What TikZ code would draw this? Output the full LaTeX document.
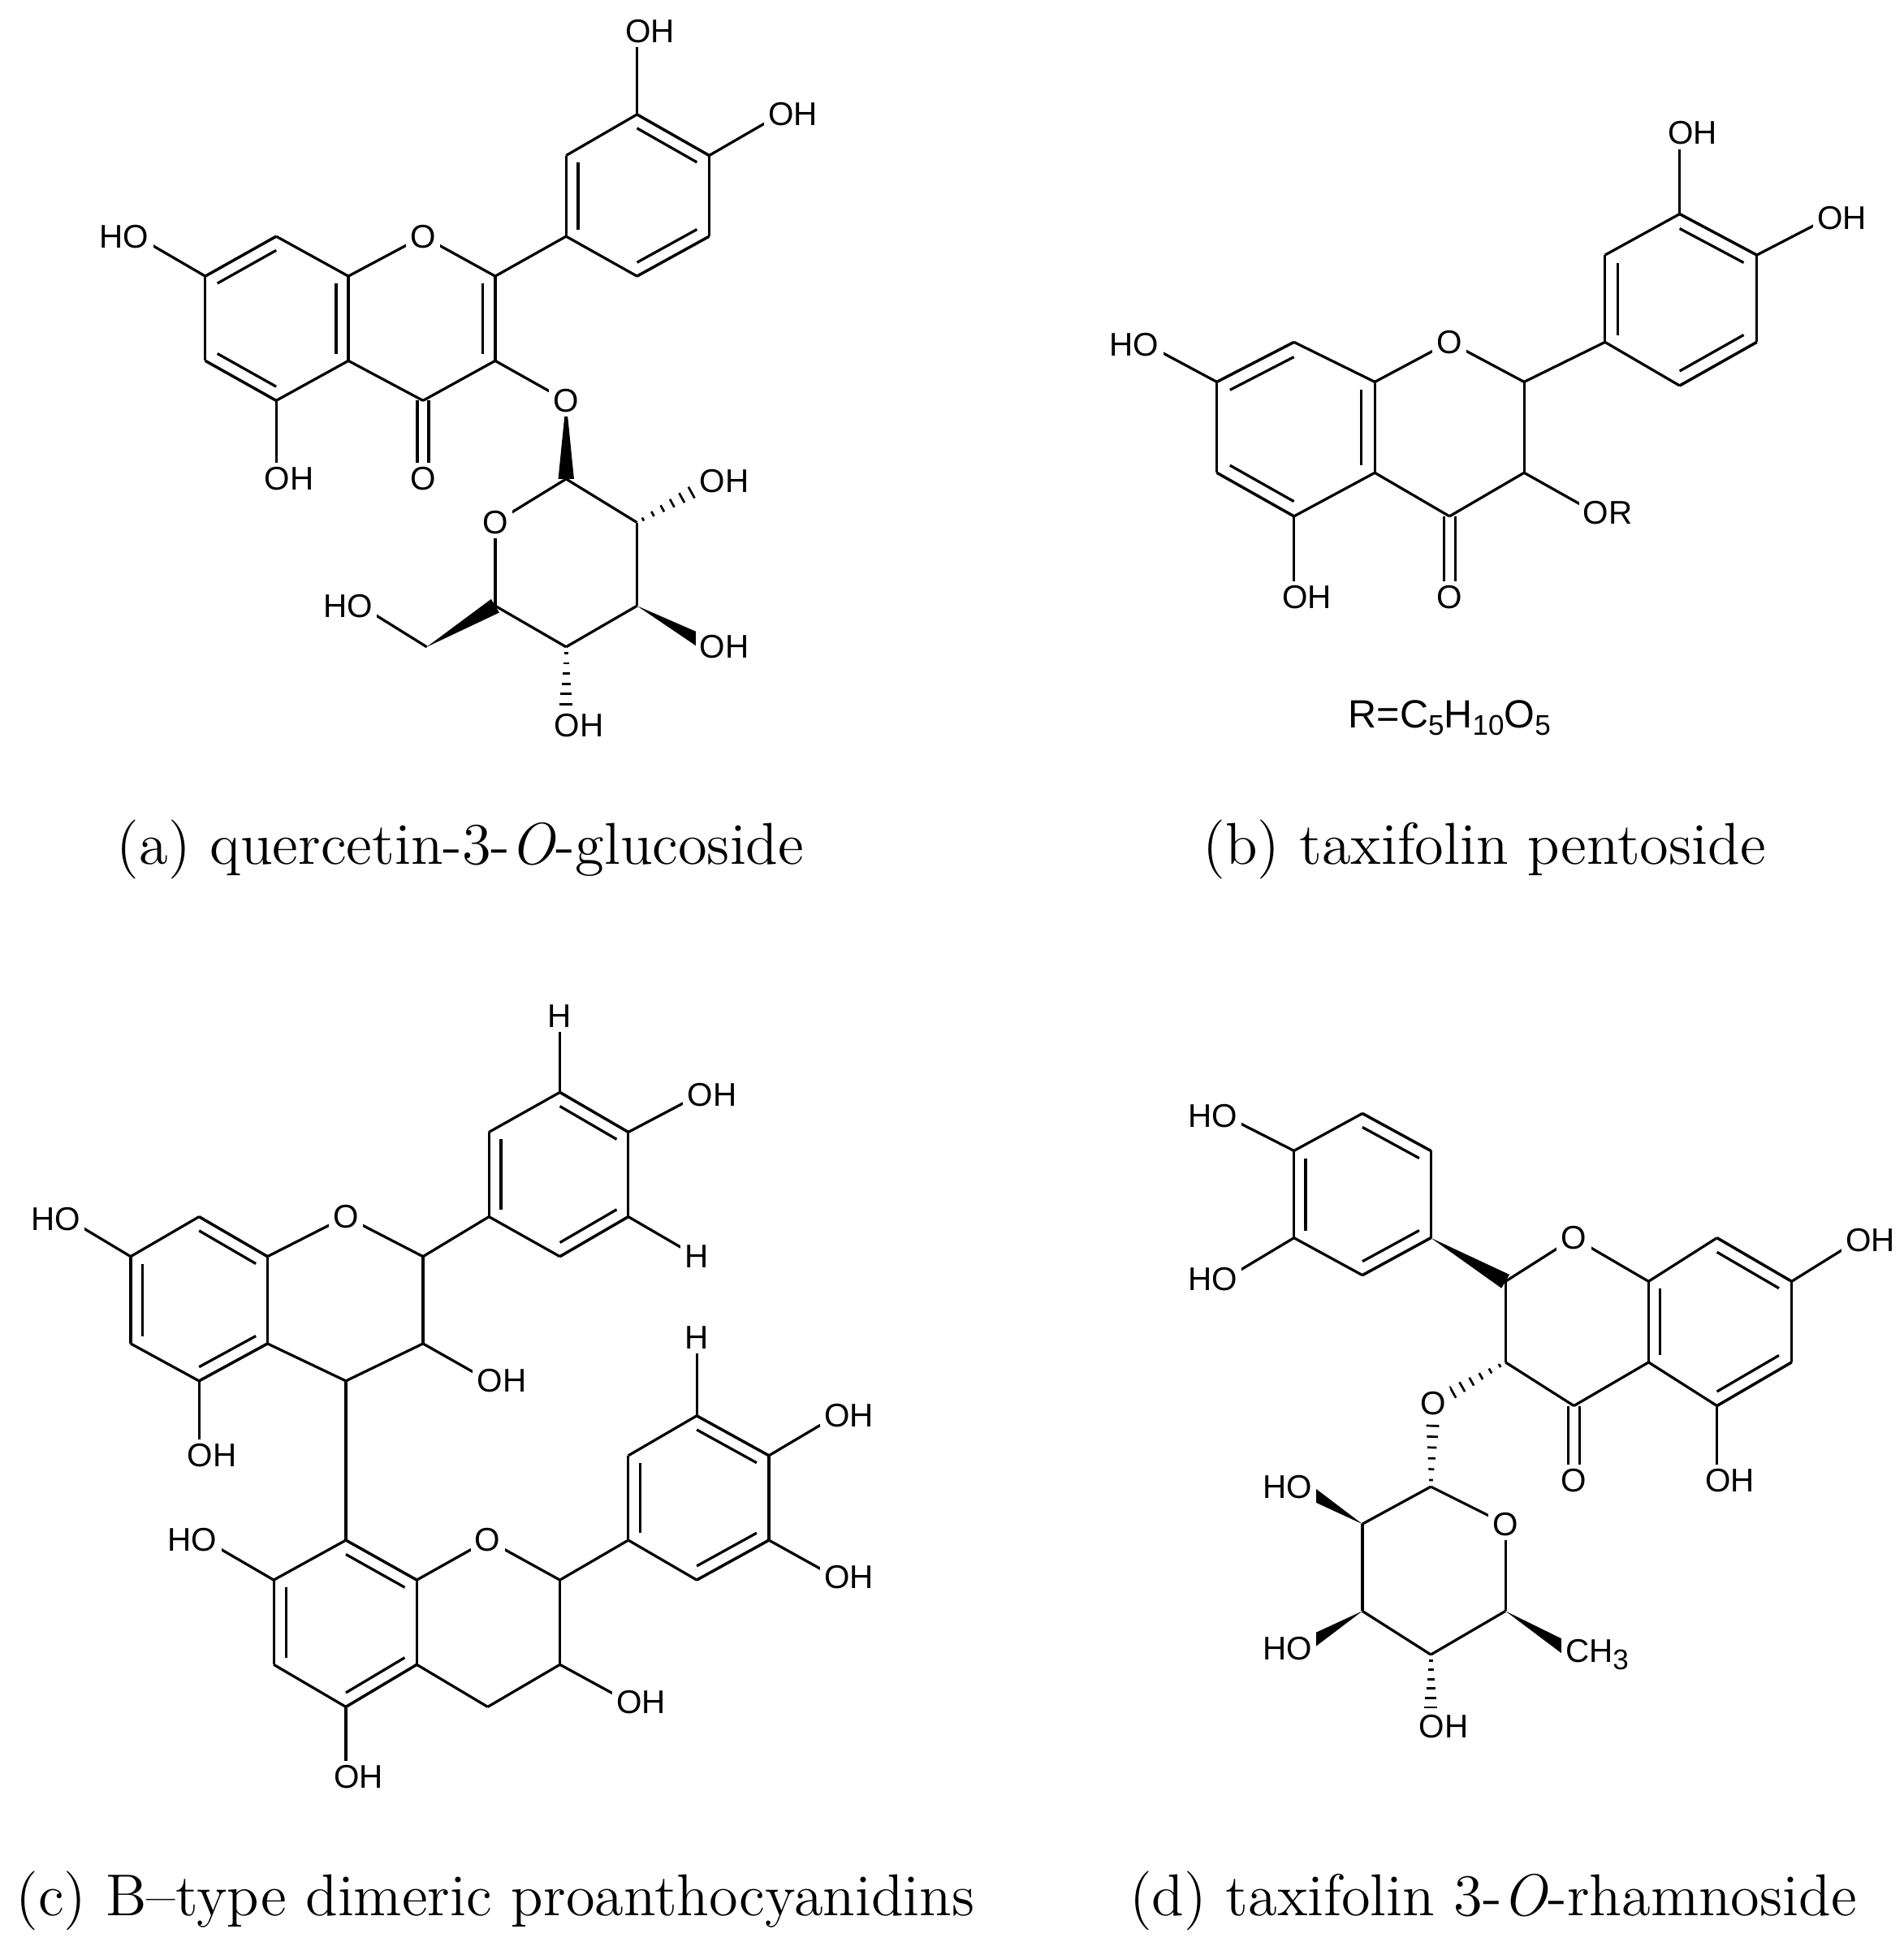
\documentclass[tikz,border=0pt]{standalone}
\usepackage{fontspec}
\newfontfamily\labfont{Liberation Sans}
\usetikzlibrary{calc}
\tikzset{lab/.style={fill=white,inner sep=1pt,font=\labfont\fontsize{7.5}{8}\selectfont},
captxt/.style={font=\fontsize{13.5}{15}\selectfont},
bond/.style={line width=0.6pt}}
\newcommand\sbs[1]{\raisebox{-1.6pt}{\fontsize{6.5}{7}\selectfont #1}}
\newcommand\bd[2]{\draw[bond] (#1) -- (#2);}
\newcommand\dbd[3]{\draw[bond] (#1) -- (#2); \draw[bond] ($(#1)!0.17!(#3)$) -- ($(#2)!0.17!(#3)$);}
\newcommand\cO[2]{\draw[bond] ($(#1)!1.3pt!90:(#2)$) -- ($(#2)!1.3pt!-90:(#1)$); \draw[bond] ($(#1)!1.3pt!-90:(#2)$) -- ($(#2)!1.3pt!90:(#1)$);}
\newcommand\wdg[2]{\fill (#1) -- ($(#2)!1.8pt!90:(#1)$) -- ($(#2)!1.8pt!-90:(#1)$) -- cycle;}
\newcommand\hsh[2]{\foreach \t in {0.08,0.21,0.34,0.47,0.60,0.73,0.86}{\pgfmathsetmacro\hw{0.3+1.6*\t}\path ($(#1)!\t!(#2)$) coordinate (hp); \draw[line width=0.5pt] ($(hp)!\hw pt!90:(#2)$) -- ($(hp)!\hw pt!-90:(#2)$);}}
\newcommand\ring[6]{\bd{#1}{#2}\bd{#2}{#3}\bd{#3}{#4}\bd{#4}{#5}\bd{#5}{#6}\bd{#6}{#1}}
\begin{document}
\begin{tikzpicture}[x=0.01cm,y=-0.01cm]
\useasboundingbox (0,0) rectangle (1530,1561);
% ---------- (a)
\foreach \n/\x/\y in {a7/165/222,a8/222/190,a8a/280/222,a4a/280/290,a5/222/322,a6/165/290,aO1/340/190,a2/398/222,a3/398/290,a4/340/322,aOH7/110/190,aOH5/222/385,aO4/340/385,aO3/455/322,
b1/455/190,b2/455/125,b3/512/92,b4/570/125,b5/570/190,b6/512/222,bOH3/512/25,bOH4/627/92,
s1/455/385,sO/398/420,s5/398/487,s4/455/520,s3/512/487,s2/512/420,sOH2/572/387,sOH3/572/520,sOH4/455/583,sc6/343/520,sOH6/290/487}
  \coordinate (\n) at (\x,\y);
\coordinate (acA) at ($(a8)!0.5!(a5)$); \coordinate (acC) at ($(aO1)!0.5!(a4)$); \coordinate (acB) at ($(b3)!0.5!(b6)$);
\ring{a7}{a8}{a8a}{a4a}{a5}{a6}\ring{a8a}{aO1}{a2}{a3}{a4}{a4a}\ring{b1}{b2}{b3}{b4}{b5}{b6}
\dbd{a7}{a8}{acA}\dbd{a8a}{a4a}{acA}\dbd{a5}{a6}{acA}\dbd{a2}{a3}{acC}
\dbd{b1}{b2}{acB}\dbd{b3}{b4}{acB}\dbd{b5}{b6}{acB}
\bd{a2}{b1}\bd{a7}{aOH7}\bd{a5}{aOH5}\cO{a4}{aO4}\bd{a3}{aO3}\bd{b3}{bOH3}\bd{b4}{bOH4}
\ring{s1}{sO}{s5}{s4}{s3}{s2}
\wdg{aO3}{s1}\hsh{s2}{sOH2}\wdg{s3}{sOH3}\hsh{s4}{sOH4}\wdg{sc6}{s5}\bd{sc6}{sOH6}
\node[lab] (LaO1) at (aO1) {O}; \node[lab] (LaO4) at (aO4) {O}; \node[lab] (LaO3) at (aO3) {O}; \node[lab] (LsO) at (sO) {O};
\node[lab,anchor=east,xshift=3.9pt] (La7) at (aOH7) {HO};
\node[lab,anchor=west,xshift=-3.9pt] (La5) at (aOH5) {OH};
\node[lab,anchor=west,xshift=-3.9pt] (Lb3) at (bOH3) {OH};
\node[lab,anchor=west,xshift=-3.9pt] (Lb4) at (bOH4) {OH};
\node[lab,anchor=west,xshift=-3.9pt] (Ls2) at (sOH2) {OH};
\node[lab,anchor=west,xshift=-3.9pt] (Ls3) at (sOH3) {OH};
\node[lab,anchor=west,xshift=-3.9pt] (Ls4) at (sOH4) {OH};
\node[lab,anchor=east,xshift=3.9pt] (Ls6) at (sOH6) {HO};
\node[captxt] (capa) at (370,683) {(a) quercetin-3-\textit{O}-glucoside};
% ---------- (b)
\foreach \n/\x/\y in {c7/978/307,c8/1040/275,c8a/1105/307,c4a/1105/380,c5/1040/415,c6/978/380,cO1/1165/275,c2/1225/307,c3/1225/380,c4/1165/415,cOH7/922/277,cOH5/1040/480,cO4/1165/480,cOR/1282/412,
e1/1290/275,e2/1290/205,e3/1350/172,e4/1412/205,e5/1412/275,e6/1350/310,eOH3/1350/107,eOH4/1470/175}
  \coordinate (\n) at (\x,\y);
\coordinate (ccA) at ($(c8)!0.5!(c5)$); \coordinate (ccB) at ($(e3)!0.5!(e6)$);
\ring{c7}{c8}{c8a}{c4a}{c5}{c6}\ring{c8a}{cO1}{c2}{c3}{c4}{c4a}\ring{e1}{e2}{e3}{e4}{e5}{e6}
\dbd{c7}{c8}{ccA}\dbd{c8a}{c4a}{ccA}\dbd{c5}{c6}{ccA}
\dbd{e1}{e2}{ccB}\dbd{e3}{e4}{ccB}\dbd{e5}{e6}{ccB}
\bd{c2}{e1}\bd{c7}{cOH7}\bd{c5}{cOH5}\cO{c4}{cO4}\bd{c3}{cOR}\bd{e3}{eOH3}\bd{e4}{eOH4}
\node[lab] (LcO1) at (cO1) {O}; \node[lab] (LcO4) at (cO4) {O};
\node[lab,anchor=east,xshift=3.9pt] (Lc7) at (cOH7) {HO};
\node[lab,anchor=west,xshift=-3.9pt] (Lc5) at (cOH5) {OH};
\node[lab,anchor=west,xshift=-3.9pt] (LcR) at (cOR) {OR};
\node[lab,anchor=west,xshift=-3.9pt] (Le3) at (eOH3) {OH};
\node[lab,anchor=west,xshift=-3.9pt] (Le4) at (eOH4) {OH};
\node[lab,fill=none,font=\labfont\fontsize{9}{10}\selectfont] (Rdef) at (1165,577) {R=C\sbs{5}H\sbs{10}O\sbs{5}};
\node[captxt] (capb) at (1193,683) {(b) taxifolin pentoside};
% ---------- (c)
\foreach \n/\x/\y in {t8a/215/1010,t8/160/978,t7/105/1010,t6/105/1080,t5/160/1110,t4a/215/1080,tO/278/978,t2/340/1010,t3/340/1080,t4/278/1110,tOH7/55/980,tOH5/160/1170,tOH3/393/1110,
tb1/393/978,tb2/393/910,tb3/450/878,tb4/505/910,tb5/505/978,tb6/450/1010,tH2/450/817,tOH4/562/880,tH6/560/1010,
u8/278/1238,u8a/335/1270,uO/392/1238,u2/450/1270,u3/450/1338,u4/392/1372,u4a/335/1338,u5/278/1372,u6/220/1338,u7/220/1270,uOH7/165/1238,uOH5/278/1428,uOH3/505/1368,
ub1/505/1238,ub2/505/1170,ub3/560/1138,ub4/618/1170,ub5/618/1238,ub6/560/1270,uH2/560/1075,uOH4/672/1138,uOH5b/672/1268}
  \coordinate (\n) at (\x,\y);
\coordinate (tcA) at ($(t8)!0.5!(t5)$); \coordinate (tcB) at ($(tb3)!0.5!(tb6)$);
\coordinate (ucA) at ($(u8)!0.5!(u5)$); \coordinate (ucB) at ($(ub3)!0.5!(ub6)$);
\ring{t8a}{t8}{t7}{t6}{t5}{t4a}\ring{t8a}{tO}{t2}{t3}{t4}{t4a}\ring{tb1}{tb2}{tb3}{tb4}{tb5}{tb6}
\dbd{t7}{t6}{tcA}\dbd{t5}{t4a}{tcA}\dbd{t8}{t8a}{tcA}
\dbd{tb1}{tb2}{tcB}\dbd{tb3}{tb4}{tcB}\dbd{tb5}{tb6}{tcB}
\bd{t2}{tb1}\bd{t7}{tOH7}\bd{t5}{tOH5}\bd{t3}{tOH3}\bd{tb3}{tH2}\bd{tb4}{tOH4}\bd{tb5}{tH6}
\bd{t4}{u8}
\ring{u8}{u8a}{u4a}{u5}{u6}{u7}\ring{u8a}{uO}{u2}{u3}{u4}{u4a}\ring{ub1}{ub2}{ub3}{ub4}{ub5}{ub6}
\dbd{u7}{u6}{ucA}\dbd{u5}{u4a}{ucA}\dbd{u8}{u8a}{ucA}
\dbd{ub1}{ub2}{ucB}\dbd{ub3}{ub4}{ucB}\dbd{ub5}{ub6}{ucB}
\bd{u2}{ub1}\bd{u7}{uOH7}\bd{u5}{uOH5}\bd{u3}{uOH3}\bd{ub3}{uH2}\bd{ub4}{uOH4}\bd{ub5}{uOH5b}
\node[lab] (LtO) at (tO) {O}; \node[lab] (LuO) at (uO) {O};
\node[lab] (LtH2) at (tH2) {H}; \node[lab] (LtH6) at (tH6) {H}; \node[lab] (LuH2) at (uH2) {H};
\node[lab,anchor=east,xshift=3.9pt] (Lt7) at (tOH7) {HO};
\node[lab,anchor=west,xshift=-3.9pt] (Lt5) at (tOH5) {OH};
\node[lab,anchor=west,xshift=-3.9pt] (Lt3) at (tOH3) {OH};
\node[lab,anchor=west,xshift=-3.9pt] (Lt4) at (tOH4) {OH};
\node[lab,anchor=east,xshift=3.9pt] (Lu7) at (uOH7) {HO};
\node[lab,anchor=west,xshift=-3.9pt] (Lu5) at (uOH5) {OH};
\node[lab,anchor=west,xshift=-3.9pt] (Lu3) at (uOH3) {OH};
\node[lab,anchor=west,xshift=-3.9pt] (Lu4) at (uOH4) {OH};
\node[lab,anchor=west,xshift=-3.9pt] (Lu5b) at (uOH5b) {OH};
\node[captxt] (capc) at (398,1528) {(c) B--type dimeric proanthocyanidins};
% ---------- (d)
\foreach \n/\x/\y in {d1/1040/925,d2/1095/895,d3/1150/925,d4/1150/995,d5/1095/1025,d6/1040/995,dOHa/985/897,dOHb/985/1028,
dC2/1210/1030,dO/1265/995,d8a/1325/1030,d4a/1325/1095,dC4/1265/1130,dC3/1210/1095,d8/1380/995,d7/1440/1030,d6a/1440/1095,d5a/1380/1130,
dOH7/1493/997,dOH5/1380/1190,dO4/1265/1190,dO3/1152/1128,
r1/1150/1195,rO/1210/1225,r5/1210/1295,r4/1150/1330,r3/1095/1295,r2/1095/1225,rOH2/1045/1195,rOH3/1045/1325,rOH4/1150/1388,rMe/1267/1330}
  \coordinate (\n) at (\x,\y);
\coordinate (dcB) at ($(d2)!0.5!(d5)$); \coordinate (dcA) at ($(d8)!0.5!(d5a)$);
\ring{d1}{d2}{d3}{d4}{d5}{d6}\ring{dC2}{dO}{d8a}{d4a}{dC4}{dC3}\ring{d8a}{d8}{d7}{d6a}{d5a}{d4a}
\dbd{d2}{d3}{dcB}\dbd{d4}{d5}{dcB}\dbd{d6}{d1}{dcB}
\dbd{d8}{d7}{dcA}\dbd{d6a}{d5a}{dcA}\dbd{d8a}{d4a}{dcA}
\bd{d1}{dOHa}\bd{d6}{dOHb}\wdg{d4}{dC2}\bd{d7}{dOH7}\bd{d5a}{dOH5}\cO{dC4}{dO4}
\hsh{dC3}{dO3}\hsh{r1}{dO3}
\ring{r1}{rO}{r5}{r4}{r3}{r2}
\wdg{r2}{rOH2}\wdg{r3}{rOH3}\hsh{r4}{rOH4}\wdg{r5}{rMe}
\node[lab] (LdO) at (dO) {O}; \node[lab] (LdO4) at (dO4) {O}; \node[lab] (LdO3) at (dO3) {O}; \node[lab] (LrO) at (rO) {O};
\node[lab,anchor=east,xshift=3.9pt] (Lda) at (dOHa) {HO};
\node[lab,anchor=east,xshift=3.9pt] (Ldb) at (dOHb) {HO};
\node[lab,anchor=west,xshift=-3.9pt] (Ld7) at (dOH7) {OH};
\node[lab,anchor=west,xshift=-3.9pt] (Ld5) at (dOH5) {OH};
\node[lab,anchor=east,xshift=3.9pt] (Lr2) at (rOH2) {HO};
\node[lab,anchor=east,xshift=3.9pt] (Lr3) at (rOH3) {HO};
\node[lab,anchor=west,xshift=-3.9pt] (Lr4) at (rOH4) {OH};
\node[lab,anchor=west,xshift=-3.7pt] (LrMe) at (rMe) {CH\sbs{3}};
\node[captxt] (capd) at (1200,1528) {(d) taxifolin 3-\textit{O}-rhamnoside};
\end{tikzpicture}
\end{document}
